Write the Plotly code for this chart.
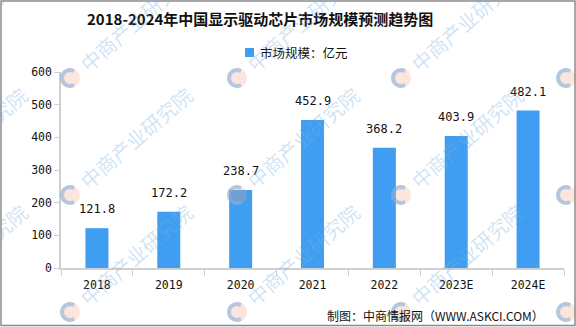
import math
import plotly.graph_objects as go

# Market size of China's display driver chips (100 million yuan)
years = ["2018", "2019", "2020", "2021", "2022", "2023E", "2024E"]
market_size = [121.8, 172.2, 238.7, 452.9, 368.2, 403.9, 482.1]
y_ticks = [0, 100, 200, 300, 400, 500, 600]

title_text = "2018-2024年中国显示驱动芯片市场规模预测趋势图"
legend_text = "市场规模：亿元"
source_text = "制图：中商情报网（WWW.ASKCI.COM）"
watermark_text = "中商产业研究院"

W, H = 576, 327
L, R, T, B = 61, 12, 72, 59
PW, PH = W - L - R, H - T - B

BAR_COLOR = "#3f9ef2"
NUM_FONT = "DejaVu Sans Mono"
CJK_FONT = "Noto Sans CJK SC"


def px(x):
    return (x - L) / PW


def py(y):
    return (H - B - y) / PH


fig = go.Figure()
fig.add_trace(go.Bar(
    x=years, y=market_size, width=0.32,
    marker=dict(color=BAR_COLOR, line=dict(width=0)),
    showlegend=False, hoverinfo="x+y",
))

annotations = []
shapes = []

# value labels above the bars (category index as x position)
for i, v in enumerate(market_size):
    annotations.append(dict(
        x=i, y=v, xref="x", yref="y", text=f"{v:.1f}", showarrow=False,
        yanchor="bottom", yshift=10,
        font=dict(family=NUM_FONT, size=12, color="#111"),
    ))

# title, legend and source line
annotations.append(dict(
    x=px(260), y=py(19), xref="paper", yref="paper", text=f"<b>{title_text}</b>",
    showarrow=False, xanchor="center", yanchor="middle",
    font=dict(family=CJK_FONT, size=15, color="#111"),
))
shapes.append(dict(
    type="rect", xref="paper", yref="paper",
    x0=px(245), x1=px(254), y0=py(57), y1=py(48),
    fillcolor=BAR_COLOR, line=dict(width=0), layer="above",
))
annotations.append(dict(
    x=px(258), y=py(52), xref="paper", yref="paper", text=legend_text,
    showarrow=False, xanchor="left", yanchor="middle",
    font=dict(family=CJK_FONT, size=12.5, color="#111"),
))
annotations.append(dict(
    x=px(546), y=py(315), xref="paper", yref="paper", text=source_text,
    showarrow=False, xanchor="right", yanchor="middle",
    font=dict(family=CJK_FONT, size=12, color="#111"),
))

# faint repeated watermark: logo circle + rotated text
ang = math.radians(41)
for cx in (-95, 70, 237, 401, 566):
    for cy in (78, 195, 312):
        r = 10
        shapes.append(dict(
            type="circle", xref="paper", yref="paper",
            x0=px(cx - r), x1=px(cx + r), y0=py(cy + r), y1=py(cy - r),
            fillcolor="rgba(245,160,130,0.28)", line=dict(width=0), layer="above",
        ))
        pts = []
        for k in range(15):
            a = math.radians(60 + k * 240 / 14)
            pts.append((cx + (r - 2) * math.cos(a), cy - (r - 2) * math.sin(a)))
        path = "M" + " L".join(f"{px(x):.5f},{py(y):.5f}" for x, y in pts)
        shapes.append(dict(
            type="path", xref="paper", yref="paper", path=path,
            line=dict(color="rgba(120,175,225,0.55)", width=4), layer="above",
        ))
        d = 20 + 3 * 22.5
        tx, ty = cx + d * math.cos(ang), cy - d * math.sin(ang)
        annotations.append(dict(
            x=px(tx), y=py(ty), xref="paper", yref="paper", text=watermark_text,
            showarrow=False, textangle=-41, xanchor="center", yanchor="middle",
            font=dict(family=CJK_FONT, size=20, color="rgba(120,175,225,0.35)"),
        ))

# outer frame
shapes.append(dict(
    type="rect", xref="paper", yref="paper",
    x0=px(1), x1=px(575), y0=py(325.5), y1=py(1),
    line=dict(color="#8a8a8a", width=1.5), fillcolor="rgba(0,0,0,0)", layer="above",
))

fig.update_layout(
    width=W, height=H,
    margin=dict(l=L, r=R, t=T, b=B),
    paper_bgcolor="white", plot_bgcolor="white",
    showlegend=False,
    annotations=annotations, shapes=shapes,
    xaxis=dict(
        type="category", showgrid=False, showline=True, linecolor="#d0d0d0", linewidth=1.5,
        ticks="outside", tickson="boundaries", ticklen=6, tickcolor="#d0d0d0",
        ticklabelstandoff=5,
        tickfont=dict(family=NUM_FONT, size=11.5, color="#111"),
        range=[-0.5, 6.5],
    ),
    yaxis=dict(
        range=[0, 600], tickvals=y_ticks, showgrid=False, zeroline=False,
        showline=True, linecolor="#d0d0d0", linewidth=1.5,
        ticks="outside", ticklen=5, tickcolor="#d0d0d0",
        tickfont=dict(family=NUM_FONT, size=11.5, color="#111"),
    ),
)

fig.write_html("out.html")
